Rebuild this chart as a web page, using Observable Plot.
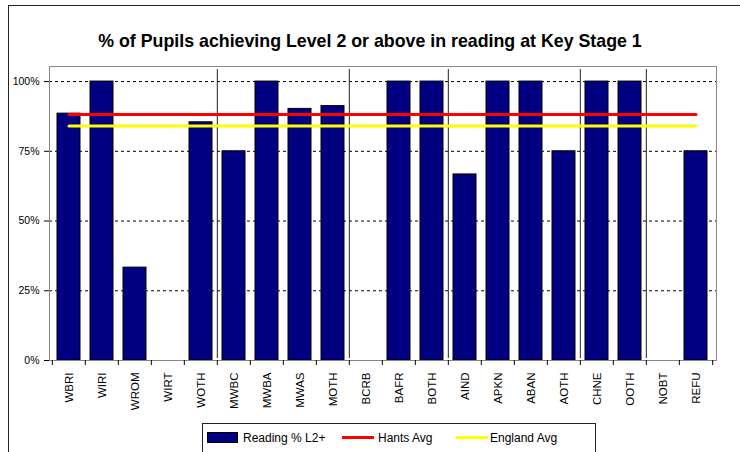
<!DOCTYPE html>
<html>
<head>
<meta charset="utf-8">
<script src="https://cdn.jsdelivr.net/npm/d3@7"></script>
<script src="https://cdn.jsdelivr.net/npm/@observablehq/plot@0.6"></script>
<style>
  html, body { margin: 0; padding: 0; background: #fff; }
  #wrap { position: relative; width: 740px; height: 452px; overflow: hidden; font-family: "Liberation Sans", Arial, sans-serif; }
  #border { position: absolute; left: 8px; top: 5px; width: 800px; height: 500px; border-left: 1px solid #222; border-top: 1px solid #222; box-sizing: border-box; }
  #title { position: absolute; left: 0; width: 740px; top: 31px; text-align: center; font-weight: bold; font-size: 17.8px; color: #000; }
  #chart { position: absolute; left: 0; top: 0; }
  #legend { position: absolute; left: 202px; top: 423px; width: 394px; height: 40px; border: 1px solid #222; box-sizing: border-box; font-size: 12px; }
  .item { position: absolute; top: 6px; height: 16px; line-height: 16px; }
  .sw { position: absolute; }
</style>
</head>
<body>
<div id="wrap">
  <div id="border"></div>
  <div id="chart"></div>
  <div id="title">% of Pupils achieving Level 2 or above in reading at Key Stage 1</div>
  <div id="legend"></div>
</div>
<script>
const categories = ["WBRI","WIRI","WROM","WIRT","WOTH","MWBC","MWBA","MWAS","MOTH","BCRB","BAFR","BOTH","AIND","APKN","ABAN","AOTH","CHNE","OOTH","NOBT","REFU"];
const readingPct = [88.5, 100, 33.3, null, 85.4, 75, 100, 90.2, 91.2, null, 100, 100, 66.7, 100, 100, 75, 100, 100, null, 75];
const hantsAvg = 88.2;
const englandAvg = 84.1;
const groupStarts = ["MWBC","BCRB","AIND","CHNE","NOBT"];
const yTicks = [0, 25, 50, 75, 100];
const seriesNames = ["Reading % L2+", "Hants Avg", "England Avg"];
const seriesColors = ["#000080", "#ff0000", "#ffff00"];

const data = categories.map((c, i) => ({cat: c, value: readingPct[i]}));
const W = 740, H = 452, mL = 49, mR = 24, mT = 66, mB = 92;
const step = (W - mL - mR) / categories.length;

const chart = Plot.plot({
  width: W, height: H,
  marginLeft: mL, marginRight: mR, marginTop: mT, marginBottom: mB,
  style: {fontFamily: "'Liberation Sans', Arial, sans-serif", fontSize: "11px", color: "#000", background: "transparent"},
  x: {domain: categories, type: "band", paddingInner: 0.3, paddingOuter: 0.15, label: null},
  y: {domain: [0, 105.4], label: null},
  marks: [
    Plot.gridY(yTicks.filter(d => d > 0), {stroke: "#000", strokeOpacity: 1, strokeDasharray: "3,3"}),
    Plot.barY(data.filter(d => d.value != null), {x: "cat", y1: 0, y2: "value", fill: seriesColors[0], stroke: "#000", strokeWidth: 1}),
    Plot.ruleX(groupStarts, {dx: -step / 2, stroke: "#222", strokeWidth: 1, insetTop: 3, insetBottom: 2}),
    Plot.lineY([categories[0], categories[categories.length - 1]], {x: d => d, y: () => hantsAvg, stroke: seriesColors[1], strokeWidth: 3}),
    Plot.lineY([categories[0], categories[categories.length - 1]], {x: d => d, y: () => englandAvg, stroke: seriesColors[2], strokeWidth: 3}),
    Plot.frame({stroke: "#888"}),
    Plot.ruleX(categories, {dx: -step / 2, y1: 0, y2: -1.8, stroke: "#000"}),
    Plot.ruleX([categories[categories.length - 1]], {dx: step / 2, y1: 0, y2: -1.8, stroke: "#000"}),
    Plot.axisY(yTicks, {tickFormat: d => d + "%", tickSize: 5, tickPadding: 5, fontSize: 10.5}),
    Plot.axisX({tickSize: 0, tickRotate: -90, tickPadding: 12, fontSize: 11.5})
  ]
});
document.getElementById("chart").appendChild(chart);

const legend = document.getElementById("legend");
const items = [
  {name: seriesNames[0], type: "box", color: seriesColors[0], sx: 4, tx: 40},
  {name: seriesNames[1], type: "line", color: seriesColors[1], sx: 139, tx: 175},
  {name: seriesNames[2], type: "line", color: seriesColors[2], sx: 253, tx: 287}
];
for (const it of items) {
  const sw = document.createElement("div");
  sw.className = "sw";
  if (it.type === "box") {
    Object.assign(sw.style, {left: it.sx + "px", top: "8px", width: "31px", height: "11px", background: it.color, border: "1px solid #000", boxSizing: "border-box"});
  } else {
    Object.assign(sw.style, {left: it.sx + "px", top: "12px", width: "32px", height: "3px", background: it.color});
  }
  legend.appendChild(sw);
  const t = document.createElement("div");
  t.className = "item";
  t.style.left = it.tx + "px";
  t.textContent = it.name;
  legend.appendChild(t);
}
</script>
</body>
</html>
